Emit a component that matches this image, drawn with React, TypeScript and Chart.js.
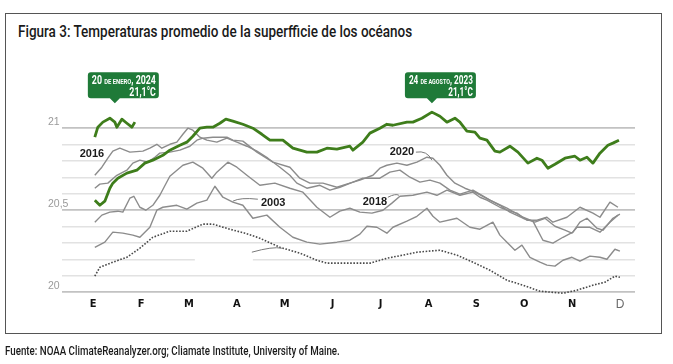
import React, { useEffect, useLayoutEffect, useRef, useState } from 'react';
import { Chart, registerables } from 'chart.js';

Chart.register(...registerables);

// ---------- data ----------
const MONTHS = ['E', 'F', 'M', 'A', 'M', 'J', 'J', 'A', 'S', 'O', 'N', 'D'];
const Y_GRID = [20, 20.1, 20.2, 20.3, 20.4, 20.5, 20.6, 20.7, 20.8, 20.9, 21];
const Y_LABEL_VALUES = [21, 20.5, 20];
const Y_LABEL_TEXTS = ['21', '20,5', '20'];
const Y_MAJOR = ['20.0', '20.5', '21.0'];

// month position (0 = 1 Jan) and temperature (°C)
const M2023 = [0.035, 0.14, 0.244, 0.349, 0.411, 0.516, 0.704, 0.912, 1.079, 1.246, 1.455, 1.601, 1.81, 1.956, 2.081, 2.228, 2.374, 2.499, 2.645, 2.77, 2.916, 3.125, 3.334, 3.522, 3.689, 3.96, 4.169, 4.461, 4.67, 4.879, 5.088, 5.359, 5.422, 5.63, 5.777, 5.985, 6.131, 6.257, 6.549, 6.674, 6.862, 7.071, 7.238, 7.384, 7.551, 7.655, 7.801, 7.968, 8.073, 8.219, 8.386, 8.49, 8.699, 8.866, 9.075, 9.263, 9.367, 9.492, 9.639, 9.848, 10.056, 10.161, 10.307, 10.432, 10.578, 10.745, 10.849, 10.975];
const T2023 = [20.561, 20.53, 20.555, 20.634, 20.665, 20.695, 20.726, 20.744, 20.787, 20.805, 20.835, 20.866, 20.896, 20.915, 20.951, 21.0, 21.006, 21.006, 21.03, 21.055, 21.043, 21.024, 21.0, 20.963, 20.927, 20.927, 20.878, 20.854, 20.854, 20.878, 20.872, 20.89, 20.866, 20.915, 20.97, 21.0, 21.024, 21.018, 21.037, 21.037, 21.061, 21.098, 21.073, 21.037, 21.061, 21.037, 20.982, 20.976, 20.939, 20.927, 20.86, 20.854, 20.89, 20.854, 20.787, 20.817, 20.805, 20.756, 20.78, 20.817, 20.829, 20.805, 20.823, 20.787, 20.848, 20.896, 20.909, 20.927];

const M2024 = [0.035, 0.098, 0.203, 0.349, 0.453, 0.495, 0.599, 0.704, 0.808, 0.871];
const T2024 = [20.945, 21.006, 21.037, 21.061, 21.037, 21.006, 21.055, 21.03, 21.006, 21.037];

const M2016 = [0.035, 0.182, 0.307, 0.411, 0.557, 0.766, 1.038, 1.184, 1.33, 1.434, 1.601, 1.747, 1.873, 1.977, 2.081, 2.228, 2.374, 2.582, 2.791, 3.0, 3.209, 3.418, 3.647, 3.898, 4.106, 4.252, 4.461, 4.733, 4.942, 5.15, 5.422, 5.63, 5.985, 6.194, 6.403, 6.612, 6.82, 7.029, 7.238, 7.447, 7.655, 7.927, 8.282, 8.637, 8.971, 9.179, 9.388, 9.597, 9.806, 10.014, 10.161, 10.307, 10.516, 10.641, 10.849, 10.995];
const T2016 = [20.713, 20.762, 20.817, 20.86, 20.878, 20.854, 20.86, 20.878, 20.902, 20.878, 20.902, 20.915, 20.963, 21.0, 20.988, 20.945, 20.927, 20.915, 20.939, 20.915, 20.89, 20.86, 20.817, 20.762, 20.713, 20.665, 20.634, 20.652, 20.622, 20.64, 20.671, 20.695, 20.695, 20.732, 20.744, 20.701, 20.671, 20.683, 20.665, 20.622, 20.598, 20.622, 20.561, 20.512, 20.457, 20.433, 20.317, 20.299, 20.335, 20.366, 20.427, 20.451, 20.39, 20.378, 20.451, 20.476];

const M2020 = [0.035, 0.14, 0.307, 0.495, 0.704, 0.829, 0.975, 1.142, 1.288, 1.392, 1.601, 1.81, 2.019, 2.165, 2.29, 2.499, 2.791, 2.916, 3.125, 3.418, 3.752, 4.106, 4.315, 4.524, 4.796, 5.088, 5.359, 5.568, 5.839, 5.985, 6.131, 6.34, 6.549, 6.758, 6.967, 7.092, 7.238, 7.384, 7.551, 7.76, 7.968, 8.282, 8.49, 8.699, 8.971, 9.221, 9.43, 9.639, 9.848, 9.994, 10.098, 10.369, 10.578, 10.787, 10.954];
const T2020 = [20.634, 20.659, 20.665, 20.713, 20.744, 20.787, 20.805, 20.793, 20.823, 20.848, 20.854, 20.866, 20.89, 20.927, 20.939, 20.945, 20.945, 20.927, 20.921, 20.854, 20.793, 20.762, 20.695, 20.665, 20.665, 20.64, 20.665, 20.683, 20.713, 20.756, 20.774, 20.787, 20.774, 20.793, 20.823, 20.817, 20.774, 20.713, 20.665, 20.634, 20.61, 20.561, 20.53, 20.488, 20.451, 20.427, 20.451, 20.402, 20.378, 20.36, 20.396, 20.396, 20.366, 20.427, 20.47];

const M2018 = [0.035, 0.182, 0.349, 0.516, 0.62, 0.766, 0.85, 0.975, 1.1, 1.246, 1.392, 1.601, 1.873, 2.081, 2.29, 2.478, 2.582, 2.812, 3.0, 3.209, 3.48, 3.793, 4.106, 4.378, 4.67, 4.942, 5.15, 5.359, 5.568, 5.818, 6.048, 6.236, 6.403, 6.674, 6.967, 7.175, 7.384, 7.655, 7.927, 8.073, 8.219, 8.49, 8.637, 8.846, 9.054, 9.263, 9.472, 9.597, 9.889, 10.161, 10.432, 10.578, 10.787, 10.954];
const T2018 = [20.427, 20.47, 20.488, 20.494, 20.488, 20.573, 20.585, 20.518, 20.5, 20.53, 20.591, 20.707, 20.774, 20.793, 20.756, 20.695, 20.732, 20.793, 20.762, 20.713, 20.652, 20.665, 20.634, 20.61, 20.518, 20.457, 20.494, 20.512, 20.488, 20.482, 20.5, 20.543, 20.585, 20.591, 20.61, 20.591, 20.622, 20.591, 20.61, 20.579, 20.561, 20.518, 20.5, 20.482, 20.439, 20.439, 20.457, 20.427, 20.457, 20.518, 20.482, 20.457, 20.549, 20.518];

const M2003 = [0.035, 0.244, 0.411, 0.62, 0.829, 0.975, 1.184, 1.33, 1.455, 1.747, 1.956, 2.165, 2.374, 2.541, 2.708, 2.916, 3.125, 3.334, 3.626, 3.898, 4.169, 4.461, 4.733, 5.088, 5.359, 5.568, 5.714, 5.923, 6.131, 6.257, 6.549, 6.758, 6.967, 7.092, 7.238, 7.593, 7.864, 8.073, 8.344, 8.49, 8.637, 8.804, 8.95, 9.117, 9.326, 9.472, 9.639, 9.806, 9.994, 10.161, 10.369, 10.578, 10.724, 10.891, 10.995];
const T2003 = [20.274, 20.305, 20.366, 20.36, 20.348, 20.335, 20.396, 20.5, 20.518, 20.53, 20.506, 20.543, 20.561, 20.646, 20.579, 20.549, 20.53, 20.451, 20.47, 20.396, 20.335, 20.305, 20.293, 20.305, 20.317, 20.354, 20.402, 20.396, 20.36, 20.396, 20.433, 20.463, 20.512, 20.463, 20.427, 20.451, 20.396, 20.384, 20.427, 20.348, 20.305, 20.256, 20.287, 20.213, 20.183, 20.165, 20.159, 20.195, 20.213, 20.189, 20.22, 20.213, 20.201, 20.262, 20.25];

const MAVG = [0.035, 0.14, 0.411, 0.704, 0.975, 1.246, 1.601, 1.956, 2.29, 2.499, 2.853, 3.168, 3.48, 3.898, 4.315, 4.67, 4.879, 5.777, 6.131, 6.465, 6.758, 7.238, 7.593, 7.927, 8.282, 8.637, 8.971, 9.326, 9.806, 10.098, 10.432, 10.683, 10.891, 10.995];
const TAVG = [20.098, 20.152, 20.183, 20.213, 20.268, 20.335, 20.372, 20.372, 20.415, 20.415, 20.384, 20.36, 20.329, 20.274, 20.238, 20.195, 20.177, 20.177, 20.207, 20.226, 20.244, 20.256, 20.226, 20.183, 20.134, 20.073, 20.043, 20.006, 19.994, 20.012, 20.043, 20.061, 20.098, 20.091];

const YEAR_LABELS = ['2016', '2020', '2003', '2018'];
const YEAR_LABEL_X = [-0.025, 6.445, 3.757, 5.881];
const YEAR_LABEL_Y = [20.841, 20.854, 20.543, 20.549];

// leader lines: [x0, y0, x1, y1] in data units
const LEADERS = [
  [6.737, 20.854, 7.071, 20.805],
  [3.438, 20.567, 2.916, 20.555],
  [6.152, 20.579, 6.382, 20.591],
  [3.313, 20.244, 3.939, 20.268],
];
// empty label patch over the grid: [x0, x1, y0, y1]
const BLANK = [2.123, 3.334, 20.175, 20.225];

const CALLOUT_X = [0.453, 7.071];
const CALLOUT_Y = [21.152, 21.152];
const CALLOUT_DAY = ['20', '24'];
const CALLOUT_MONTH = ['DE ENERO', 'DE AGOSTO'];
const CALLOUT_YEAR = [', 2024', ', 2023'];
const CALLOUT_VALUE = ['21,1°C', '21,1°C'];

// ---------- styles ----------
const GREEN = '#3e7d1b';
const CALLOUT_BG = '#1f7a38';
const GRAY = '#8c8c8c';

const pts = (xs: number[], ys: number[]) => xs.map((x, i) => ({ x, y: ys[i] }));

const annotations = {
  id: 'annotations',
  beforeDatasetsDraw(chart: any) {
    const { ctx, scales } = chart;
    const { x, y } = scales;
    const x0 = x.getPixelForValue(BLANK[0]);
    const x1 = x.getPixelForValue(BLANK[1]);
    const y0 = y.getPixelForValue(BLANK[3]);
    const y1 = y.getPixelForValue(BLANK[2]);
    ctx.save();
    ctx.fillStyle = '#ffffff';
    ctx.fillRect(x0, y0, x1 - x0, y1 - y0);
    // y-axis value labels, left aligned, sitting just above their grid line
    ctx.fillStyle = '#9a9a9a';
    ctx.font = '10.5px "Liberation Sans", Arial, sans-serif';
    ctx.textAlign = 'left';
    ctx.textBaseline = 'middle';
    const lx = y.left;
    Y_LABEL_VALUES.forEach((v, i) => {
      ctx.fillText(Y_LABEL_TEXTS[i], lx, y.getPixelForValue(v) - 6);
    });
    ctx.restore();
  },
  afterDatasetsDraw(chart: any) {
    const { ctx, scales } = chart;
    const { x, y } = scales;
    ctx.save();
    // leaders
    ctx.strokeStyle = '#7a7a7a';
    ctx.lineWidth = 1;
    LEADERS.forEach((l) => {
      const ax = x.getPixelForValue(l[0]);
      const ay = y.getPixelForValue(l[1]);
      const bx = x.getPixelForValue(l[2]);
      const by = y.getPixelForValue(l[3]);
      ctx.beginPath();
      ctx.moveTo(ax, ay);
      ctx.quadraticCurveTo((ax + bx) / 2 + (bx - ax) * 0.2, Math.min(ay, by) - 2, bx, by);
      ctx.stroke();
    });
    // year labels
    ctx.fillStyle = '#1b1b1b';
    ctx.font = 'bold 11px "Liberation Sans", Arial, sans-serif';
    ctx.textAlign = 'center';
    ctx.textBaseline = 'middle';
    YEAR_LABELS.forEach((t, i) => {
      ctx.fillText(t, x.getPixelForValue(YEAR_LABEL_X[i]), y.getPixelForValue(YEAR_LABEL_Y[i]));
    });
    // callouts
    CALLOUT_X.forEach((cx, i) => {
      const tx = x.getPixelForValue(cx);
      const ty = y.getPixelForValue(CALLOUT_Y[i]);
      const w = 71, h = 26, ph = 5, pw = 5, r = 3;
      const left = tx - 27;
      const top = ty - ph - h;
      ctx.fillStyle = CALLOUT_BG;
      ctx.beginPath();
      ctx.moveTo(left + r, top);
      ctx.lineTo(left + w - r, top);
      ctx.quadraticCurveTo(left + w, top, left + w, top + r);
      ctx.lineTo(left + w, top + h - r);
      ctx.quadraticCurveTo(left + w, top + h, left + w - r, top + h);
      ctx.lineTo(tx + pw, top + h);
      ctx.lineTo(tx, ty);
      ctx.lineTo(tx - pw, top + h);
      ctx.lineTo(left + r, top + h);
      ctx.quadraticCurveTo(left, top + h, left, top + h - r);
      ctx.lineTo(left, top + r);
      ctx.quadraticCurveTo(left, top, left + r, top);
      ctx.closePath();
      ctx.fill();

      const parts = [
        { t: CALLOUT_DAY[i] + ' ', s: 12 },
        { t: CALLOUT_MONTH[i], s: 8 },
        { t: CALLOUT_YEAR[i], s: 12 },
      ];
      const fam = 'Roboto, "Liberation Sans", sans-serif';
      let total = 0;
      const ws = parts.map((p) => {
        ctx.font = `bold ${p.s}px ${fam}`;
        const m = ctx.measureText(p.t).width;
        total += m;
        return m;
      });
      const right = left + w - 3;
      const sx = (w - 7) / total;
      ctx.fillStyle = '#ffffff';
      ctx.textAlign = 'left';
      ctx.textBaseline = 'alphabetic';
      ctx.save();
      ctx.translate(right, top + 12);
      ctx.scale(sx, 1);
      let px = -total;
      parts.forEach((p, k) => {
        ctx.font = `bold ${p.s}px ${fam}`;
        ctx.fillText(p.t, px, 0);
        px += ws[k];
      });
      ctx.restore();
      ctx.save();
      ctx.translate(right, top + 23.5);
      ctx.scale(sx, 1);
      ctx.font = `bold 12px ${fam}`;
      ctx.textAlign = 'right';
      ctx.fillText(CALLOUT_VALUE[i], 0, 0);
      ctx.restore();
    });
    ctx.restore();
  },
};

function FitText(props: { text: string; left: number; top: number; width: number; size: number; color: string; weight?: number }) {
  const ref = useRef<HTMLDivElement>(null);
  const [sx, setSx] = useState(1);
  useLayoutEffect(() => {
    if (ref.current) {
      const w = ref.current.offsetWidth;
      if (w > 0) setSx(props.width / w);
    }
  }, [props.text, props.width]);
  return (
    <div
      ref={ref}
      style={{
        position: 'absolute',
        left: props.left,
        top: props.top,
        whiteSpace: 'nowrap',
        fontFamily: 'Roboto, "Liberation Sans", sans-serif',
        fontSize: props.size,
        fontWeight: props.weight ?? 400,
        lineHeight: 1.2,
        color: props.color,
        transform: `scaleX(${sx})`,
        transformOrigin: '0 0',
      }}
    >
      {props.text}
    </div>
  );
}

export default function App() {
  const canvasRef = useRef<HTMLCanvasElement>(null);

  useEffect(() => {
    if (!canvasRef.current) return;
    const chart = new Chart(canvasRef.current, {
      type: 'line',
      data: {
        datasets: [
          { label: '2024', data: pts(M2024, T2024), borderColor: GREEN, borderWidth: 2.8, order: 0 },
          { label: '2023', data: pts(M2023, T2023), borderColor: GREEN, borderWidth: 2.8, order: 0 },
          { label: '2016', data: pts(M2016, T2016), borderColor: GRAY, borderWidth: 1.4, order: 2 },
          { label: '2020', data: pts(M2020, T2020), borderColor: GRAY, borderWidth: 1.4, order: 2 },
          { label: '2018', data: pts(M2018, T2018), borderColor: GRAY, borderWidth: 1.4, order: 2 },
          { label: '2003', data: pts(M2003, T2003), borderColor: GRAY, borderWidth: 1.4, order: 2 },
          { label: 'Promedio', data: pts(MAVG, TAVG), borderColor: '#4a4a4a', borderWidth: 1.6, borderDash: [1.6, 1.6], order: 1 },
        ] as any,
      },
      options: {
        animation: false,
        responsive: false,
        events: [],
        elements: { point: { radius: 0 }, line: { tension: 0, borderJoinStyle: 'round' } },
        layout: { padding: { left: 48, right: 38, top: 79, bottom: 46.88 } },
        plugins: { legend: { display: false }, tooltip: { enabled: false }, title: { display: false } },
        scales: {
          x: {
            type: 'linear',
            min: -0.65,
            max: 11.31,
            afterBuildTicks: (s: any) => {
              s.ticks = MONTHS.map((_, i) => ({ value: i }));
            },
            afterFit: (s: any) => {
              s.height = 20;
            },
            grid: { display: false, drawTicks: false },
            border: { display: false },
            ticks: {
              autoSkip: false,
              maxRotation: 0,
              padding: 0,
              callback: (_v: any, i: number) => MONTHS[i],
              color: (c: any) => (c.index === 11 ? '#6a6a6a' : '#111111'),
              font: (c: any) =>
                c.index === 11
                  ? { family: '"Liberation Sans", Arial, sans-serif', size: 12, weight: 'normal' }
                  : { family: '"DejaVu Sans Condensed", Roboto, sans-serif', size: 11, weight: 'bold' },
            },
          },
          y: {
            type: 'linear',
            min: 19.97,
            max: 21.3,
            afterBuildTicks: (s: any) => {
              s.ticks = Y_GRID.map((v) => ({ value: v }));
            },
            afterFit: (s: any) => {
              s.width = 14;
            },
            border: { display: false },
            grid: {
              drawTicks: false,
              color: (c: any) => (Y_MAJOR.includes(Number(c.tick.value).toFixed(1)) ? '#c2c2c2' : '#e2e2e2'),
              lineWidth: (c: any) => (Y_MAJOR.includes(Number(c.tick.value).toFixed(1)) ? 1.8 : 1.5),
            },
            ticks: { display: false },
          },
        },
      },
      plugins: [annotations],
    } as any);
    return () => chart.destroy();
  }, []);

  return (
    <div style={{ position: 'absolute', left: 0, top: 0, width: 673, height: 364, background: '#ffffff', overflow: 'hidden' }}>
      <div
        style={{
          position: 'absolute',
          left: 5,
          top: 13,
          width: 657,
          height: 321,
          boxSizing: 'border-box',
          border: '1px solid #555555',
        }}
      />
      <FitText text="Figura 3: Temperaturas promedio de la superfficie de los océanos" left={18} top={21} width={394} size={17} weight={500} color="#1a1a1a" />
      <canvas ref={canvasRef} width={673} height={364} style={{ position: 'absolute', left: 0, top: 0, width: 673, height: 364 }} />
      <FitText text="Fuente: NOAA ClimateReanalyzer.org; Cliamate Institute, University of Maine." left={5} top={343} width={335} size={12.5} weight={500} color="#1a1a1a" />
    </div>
  );
}
